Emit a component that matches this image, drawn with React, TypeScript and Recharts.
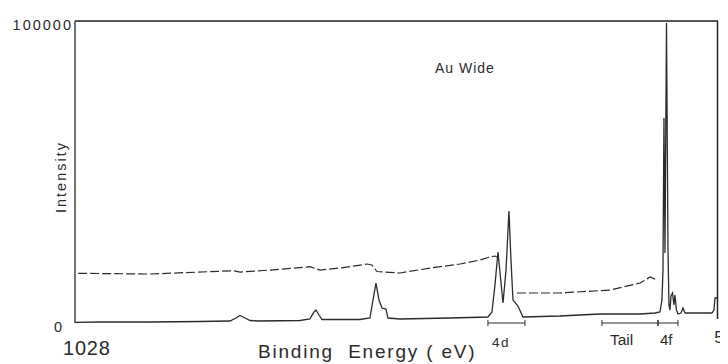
import { LineChart, Line, XAxis, YAxis, ReferenceLine } from 'recharts';

// Au wide scan, binding energy (eV) vs counts
const lowerEnergy = [
  1028, 988, 909, 829, 781, 771.5, 765, 757, 749, 736, 669.5, 653.6, 647.2, 644, 639.2, 634.4,
  573.9, 558, 553.2, 548.4, 543.6, 538.8, 532.5, 529.3, 510.2, 430.5, 370, 363.6, 358.8, 354,
  346, 341.2, 336.5, 333.3, 330.1, 322.1, 314.2, 255.2, 191.5, 127.7, 103.8, 95.9, 92.7, 91.1,
  89.5, 87.9, 85.5, 83.1, 81.5, 79.9, 78.3, 75.9, 73.6, 72, 69.6, 67.2, 62.4, 59.2, 56, 32.1,
  13, 9.8, 8.2, 5,
];
const lowerIntensity = [
  200, 330, 330, 500, 660, 1650, 2480, 1650, 830, 660, 830, 1320, 3640, 4300, 2650, 1160,
  1160, 1650, 7600, 13240, 7600, 4960, 4630, 1650, 1320, 1650, 1990, 3640, 12600, 23500,
  6620, 17500, 37070, 20850, 7600, 5630, 1990, 2320, 2980, 2980, 3310, 3640, 7600, 17500,
  67860, 23170, 99300, 24160, 5960, 4300, 8940, 9930, 5960, 9270, 4300, 2980, 3310, 4960, 3310, 3310,
  3310, 4300, 8280, 8280,
];

// upper (dashed) trace, broken across the 4d region
const upperEnergy = [
  1023, 908.5, 776, 765, 717, 653.6, 637.6, 605.8, 562.7, 554.8, 546.8, 510.2, 462.3, 414.6,
  382.7, 366.8, 358.8, 355.7, 345, 323.7, 255.2, 175.5, 127.7, 111.6, 103.8, 99,
];
const upperIntensity = [
  16450, 16220, 17310, 16880, 17540, 18640, 17540, 18200, 19530, 19200, 17050, 16550, 18200, 19530,
  20850, 21850, 22180, 21850, null, 9930, 9930, 10920, 13240, 15230, 14560, 14900,
];

const xTicks = [1028, 5];
const yTicks = [0, 100000];

// range brackets under the spectrum: 4d, Tail, 4f
const bracketFrom = [370, 188.3, 99];
const bracketTo = [311, 99, 67.2];

const lowerData = lowerEnergy.map((e, i) => ({ e, v: lowerIntensity[i] }));
const upperData = upperEnergy.map((e, i) => ({ e, v: upperIntensity[i] }));

const INK = '#2b2b2b';
const FONT = '"Liberation Sans", Arial, sans-serif';

function XTick(props: any) {
  const { x, payload } = props;
  if (payload.value === 1028) {
    return (
      <text x={x - 12} y={347} textAnchor="start" fontSize={20} letterSpacing={0.8} fill={INK} fontFamily={FONT}>
        1028
      </text>
    );
  }
  return (
    <text x={x + 2} y={335} textAnchor="middle" fontSize={17} fill={INK} fontFamily={FONT}>
      {payload.value}
    </text>
  );
}

function YTick(props: any) {
  const { y, payload } = props;
  const big = payload.value === 100000;
  return (
    <text
      x={big ? 65 : 54}
      y={y + 9}
      textAnchor="end"
      fontSize={14.5}
      letterSpacing={big ? 2 : 0}
      fill={INK}
      fontFamily={FONT}
    >
      {payload.value}
    </text>
  );
}

export default function App() {
  return (
    <div style={{ position: 'relative', width: 720, height: 356 }}>
      <LineChart
        width={720}
        height={356}
        margin={{ top: 13, right: 11, left: 0, bottom: 0 }}
      >
        <XAxis
          dataKey="e"
          type="number"
          domain={[5, 1028]}
          reversed
          allowDataOverflow
          ticks={xTicks}
          tick={<XTick />}
          tickLine={false}
          axisLine={false}
          height={41}
        />
        <YAxis
          type="number"
          domain={[0, 100000]}
          ticks={yTicks}
          tick={<YTick />}
          tickLine={false}
          width={67}
          axisLine={{ stroke: INK, strokeWidth: 1.3 }}
        />
        {bracketFrom.map((b, i) => (
          <ReferenceLine
            key={'b' + i}
            segment={[{ x: b, y: 0 }, { x: bracketTo[i], y: 0 }]}
            stroke={INK}
            strokeWidth={1}
            ifOverflow="visible"
          />
        ))}
        {bracketFrom.concat(bracketTo).map((b, i) => (
          <ReferenceLine
            key={'t' + i}
            segment={[{ x: b, y: -1000 }, { x: b, y: 1000 }]}
            stroke={INK}
            strokeWidth={1}
            ifOverflow="visible"
          />
        ))}
        <Line
          data={upperData}
          dataKey="v"
          type="linear"
          stroke={INK}
          strokeWidth={1.2}
          strokeDasharray="9 3"
          dot={false}
          connectNulls={false}
          isAnimationActive={false}
        />
        <Line
          data={lowerData}
          dataKey="v"
          type="linear"
          stroke={INK}
          strokeWidth={1.3}
          dot={false}
          isAnimationActive={false}
        />
      </LineChart>
      <svg
        width={720}
        height={356}
        style={{ position: 'absolute', left: 0, top: 0, pointerEvents: 'none' }}
        fontFamily={FONT}
        fill={INK}
      >
        {/* plot frame: top and right edges */}
        <line x1={67} y1={13} x2={710} y2={13} stroke="#222" strokeWidth={1.5} />
        <line x1={709.5} y1={13} x2={709.5} y2={311} stroke="#222" strokeWidth={1.5} />
        <text x={427} y={65} fontSize={14} letterSpacing={1}>Au Wide</text>
        <text
          x={53}
          y={169}
          fontSize={14.5}
          letterSpacing={2}
          textAnchor="middle"
          dominantBaseline="central"
          transform="rotate(-90 53 169)"
        >
          Intensity
        </text>
        <text x={250} y={350} fontSize={19} letterSpacing={1.8} xmlSpace="preserve">
          Binding  Energy ( eV)
        </text>
        <text x={484} y={339} fontSize={13.5} letterSpacing={1.5}>4d</text>
        <text x={602} y={337} fontSize={15.5}>Tail</text>
        <text x={652} y={337} fontSize={15}>4f</text>
      </svg>
    </div>
  );
}
